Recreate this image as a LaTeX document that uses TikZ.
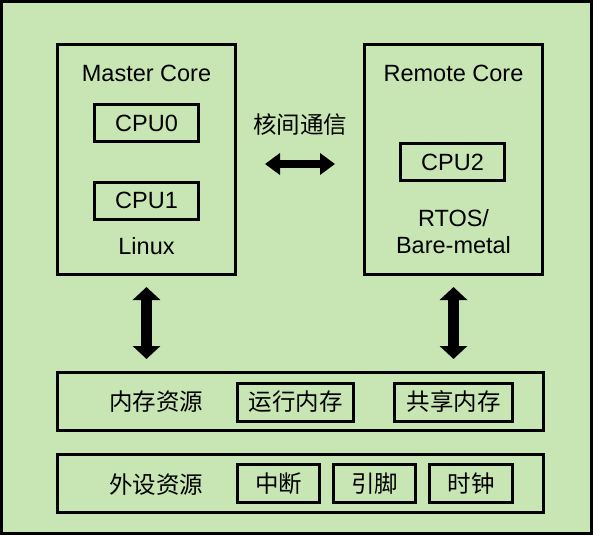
\documentclass[tikz,border=0pt]{standalone}
\usepackage{fontspec}
\setmainfont{Liberation Sans}
\newfontfamily\cjk{Noto Sans CJK SC}
\usetikzlibrary{calc}
\usetikzlibrary{positioning}
\usetikzlibrary{arrows.meta}
\definecolor{bggreen}{RGB}{200,229,180}
\tikzstyle{corebox} = [draw, line width=3pt, minimum width=178, minimum height=230, inner sep=0pt]
\tikzstyle{resbox} = [draw, line width=3pt, minimum width=486, minimum height=58, inner sep=0pt]
\tikzstyle{cpubox} = [draw, line width=3pt, minimum width=104, minimum height=37, inner sep=0pt]
\tikzstyle{itembox} = [draw, line width=3pt, minimum height=38, inner sep=0pt]
\tikzstyle{label} = [inner sep=0pt]
\tikzstyle{linkarrow} = [line width=8pt, {Triangle[width=21pt,length=15pt]}-{Triangle[width=21pt,length=15pt]}]
\tikzstyle{busarrow} = [line width=11pt, {Triangle[width=27pt,length=13pt]}-{Triangle[width=27pt,length=13pt]}]

\begin{document}
\begin{tikzpicture}[x=1pt, y=-1pt, font=\fontsize{23.5}{28}\selectfont]
\useasboundingbox (0,0) rectangle (593,535);
\draw[line width=3pt, fill=bggreen] (1.5,1.5) rectangle (591.5,533.5);

% cores
\node[corebox] (master) at (146.5,159.5) {};
\node[corebox] (remote) at (453.5,159.5) {};
\node[label] (mastertitle) at ($(master.north)+(0,30)$) {Master Core};
\node[cpubox] (cpu0) at (146.5,123) {CPU0};
\node[cpubox] (cpu1) at (146.5,200.5) {CPU1};
\node[label] (linux) at ($(master.south)+(0,-30)$) {Linux};
\node[label] (remotetitle) at ($(remote.north)+(0,30)$) {Remote Core};
\node[cpubox] (cpu2) at (452.5,162) {CPU2};
\node[label, align=center] (rtos) at ($(remote.south)+(0,-44)$) {RTOS/\\[-1pt]Bare-metal};

% inter-core link
\node[label] (ipc) at (300,125) {\cjk 核间通信};
\draw[linkarrow, shorten <=28pt, shorten >=28pt] ($(master.east)+(0,4.5)$) -- ($(remote.west)+(0,4.5)$);

% resources
\node[resbox] (mem) at (300.5,401.5) {};
\node[resbox] (periph) at (300.5,483) {};
\node[label] (memlabel) at (156,402) {\cjk 内存资源};
\node[itembox, minimum width=116] (runmem) at (295.5,402) {\cjk 运行内存};
\node[itembox, minimum width=118] (shmem) at (453.5,402) {\cjk 共享内存};
\node[label] (perlabel) at (156,485) {\cjk 外设资源};
\node[itembox, minimum width=82] (irq) at (278.5,483.5) {\cjk 中断};
\node[itembox, minimum width=82] (pins) at (374.5,483.5) {\cjk 引脚};
\node[itembox, minimum width=83] (clk) at (471,483.5) {\cjk 时钟};

\draw[busarrow, shorten <=11pt, shorten >=12pt] (master.south) -- (master.south |- mem.north);
\draw[busarrow, shorten <=11pt, shorten >=12pt] (remote.south) -- (remote.south |- mem.north);
\end{tikzpicture}
\end{document}
